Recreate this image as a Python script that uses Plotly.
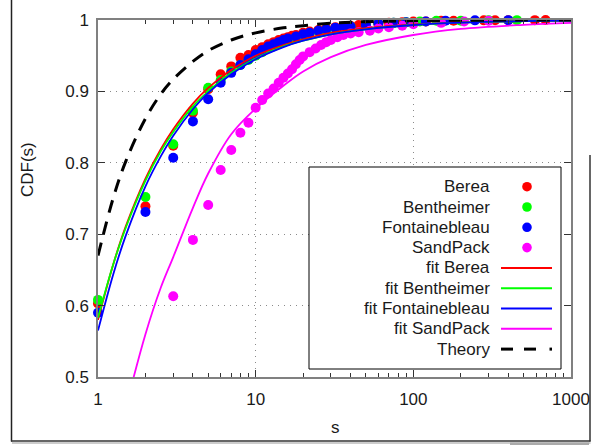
import plotly.graph_objects as go

# ---------------- data ----------------
berea_s = [1, 2, 3, 4, 5, 6, 7, 8, 9, 10, 11, 12, 13, 14, 15, 16, 17, 18,
           20, 22, 25, 28, 32, 36, 40, 45, 50, 60, 70, 85, 100, 120, 150, 180, 280, 330, 400, 590, 690]
berea_cdf = [0.603, 0.739, 0.824, 0.870, 0.903, 0.924, 0.935, 0.947, 0.951, 0.958, 0.962, 0.966, 0.969, 0.972, 0.974, 0.976, 0.978, 0.979,
             0.982, 0.984, 0.986, 0.988, 0.990, 0.991, 0.992, 0.993, 0.994, 0.995, 0.996, 0.997, 0.998, 0.998, 0.999, 0.999, 0.9995, 0.9996, 0.9997, 0.9998, 0.9999]

benth_s = [1, 2, 3, 4, 5, 6, 7, 8, 9, 10, 11, 12, 13, 14, 15, 16, 18, 20, 22, 25, 28, 32, 36, 40,
           50, 60, 75, 90, 110, 140, 200, 300, 454]
benth_cdf = [0.608, 0.752, 0.826, 0.873, 0.905, 0.916, 0.928, 0.937, 0.944, 0.950, 0.955, 0.960, 0.963, 0.966, 0.969, 0.971, 0.975, 0.978, 0.981, 0.984, 0.986, 0.988, 0.990, 0.991,
             0.993, 0.995, 0.996, 0.997, 0.998, 0.999, 0.999, 0.9995, 0.9998]

fonta_s = [1, 2, 3, 4, 5, 6, 7, 8, 9, 10, 11, 12, 13, 14, 15, 16, 18, 20, 22, 25, 28, 32, 36, 40,
           50, 60, 75, 90, 120, 160, 246, 400]
fonta_cdf = [0.590, 0.731, 0.807, 0.858, 0.889, 0.912, 0.926, 0.937, 0.945, 0.952, 0.958, 0.963, 0.966, 0.969, 0.972, 0.974, 0.977, 0.980, 0.982, 0.985, 0.987, 0.989, 0.990, 0.991,
             0.993, 0.995, 0.996, 0.997, 0.998, 0.999, 0.9995, 0.9998]

sand_s = [3, 4, 5, 6, 7, 8, 9, 10, 11, 12, 13, 14, 15, 16, 17, 18, 19, 20, 22, 24, 26, 28, 30,
          33, 36, 40, 45, 53, 60, 70, 85, 100, 150, 210, 300]
sand_cdf = [0.613, 0.692, 0.741, 0.790, 0.818, 0.842, 0.856, 0.877, 0.888, 0.897, 0.904, 0.912, 0.919, 0.925, 0.931, 0.938, 0.944, 0.949, 0.955, 0.960, 0.965, 0.969, 0.972,
            0.976, 0.979, 0.981, 0.983, 0.985, 0.988, 0.990, 0.992, 0.994, 0.996, 0.998, 0.999]

# fitted / theory curves, read at these s values
curve_s = [1, 1.25, 1.5, 2, 2.5, 3, 4, 5, 7, 10, 15, 20, 30, 50, 100, 200, 500, 1000]
fit_berea = [0.580, 0.658, 0.711, 0.778, 0.819, 0.847, 0.883, 0.905, 0.930, 0.950, 0.965, 0.973, 0.982, 0.9885, 0.9939, 0.9968, 0.9986, 0.9993]
fit_benth = [0.583, 0.658, 0.709, 0.775, 0.816, 0.843, 0.879, 0.900, 0.926, 0.946, 0.963, 0.971, 0.980, 0.987, 0.993, 0.9963, 0.9983, 0.9991]
fit_fonta = [0.565, 0.644, 0.698, 0.767, 0.809, 0.838, 0.875, 0.898, 0.924, 0.945, 0.962, 0.971, 0.980, 0.987, 0.993, 0.9963, 0.9984, 0.9991]
theory = [0.670, 0.751, 0.802, 0.862, 0.896, 0.917, 0.942, 0.957, 0.972, 0.982, 0.989, 0.992, 0.9955, 0.9976, 0.9991, 0.9996, 0.9999, 1.0]

sand_fit_s = [1.5, 2, 2.5, 3, 4, 5, 7, 10, 15, 20, 30, 50, 100, 200, 500, 1000]
fit_sand = [0.457, 0.560, 0.625, 0.668, 0.737, 0.785, 0.840, 0.876, 0.908, 0.928, 0.948, 0.965, 0.979, 0.9875, 0.9932, 0.996]

labels_pts = ["Berea", "Bentheimer", "Fontainebleau", "SandPack"]
labels_fit = ["fit Berea", "fit Bentheimer", "fit Fontainebleau", "fit SandPack", "Theory"]
colors = ["#ff0000", "#00ff00", "#0000ff", "#ff00ff"]

x_ticks = [1, 10, 100, 1000]
y_ticks = [0.5, 0.6, 0.7, 0.8, 0.9, 1.0]
y_ticktext = ["0.5", "0.6", "0.7", "0.8", "0.9", "1"]

# ---------------- figure ----------------
W, H = 601, 445
L, R, T, B = 98, 571, 20, 377  # plot area in pixels
FONT = "Liberation Sans, Arial, sans-serif"


def px(x):
    return (x - L) / (R - L)


def py(y):
    return (B - y) / (B - T)


fig = go.Figure()

pts = [(berea_s, berea_cdf), (benth_s, benth_cdf), (fonta_s, fonta_cdf), (sand_s, sand_cdf)]
for (xs, ys), c, name in zip(pts, colors, labels_pts):
    fig.add_trace(go.Scatter(x=xs, y=ys, mode="markers", name=name,
                             marker=dict(color=c, size=10, line=dict(width=0)),
                             cliponaxis=False, showlegend=False))

fits = [(curve_s, fit_berea), (curve_s, fit_benth), (curve_s, fit_fonta), (sand_fit_s, fit_sand)]
for (xs, ys), c, name in zip(fits, colors, labels_fit[:4]):
    fig.add_trace(go.Scatter(x=xs, y=ys, mode="lines", name=name,
                             line=dict(color=c, width=1.8, shape="spline", smoothing=1.0),
                             showlegend=False))

fig.add_trace(go.Scatter(x=curve_s, y=theory, mode="lines", name="Theory",
                         line=dict(color="black", width=3, dash="13px,9px", shape="spline", smoothing=1.0),
                         showlegend=False))

axis_common = dict(showline=True, linecolor="#808080", linewidth=1.5, mirror="ticks",
                   ticks="inside", tickcolor="#333333", ticklen=7, tickwidth=1,
                   showgrid=True, gridcolor="#8a8a8a", griddash="1px,5px", gridwidth=1,
                   zeroline=False, tickfont=dict(family=FONT, size=17, color="#1a1a1a"))

fig.update_xaxes(type="log", range=[0, 3], tickvals=x_ticks, ticktext=[str(v) for v in x_ticks],
                 ticklabelstandoff=6,
                 minor=dict(ticks="inside", ticklen=4, tickcolor="#333333", showgrid=False,
                            tickvals=[2, 3, 4, 5, 6, 7, 8, 9, 20, 30, 40, 50, 60, 70, 80, 90,
                                      200, 300, 400, 500, 600, 700, 800, 900]),
                 **axis_common)
fig.update_yaxes(range=[0.5, 1.0], tickvals=y_ticks, ticktext=y_ticktext, ticklabelstandoff=4,
                 **axis_common)

shapes = []
annots = []

# legend box
shapes.append(dict(type="rect", xref="paper", yref="paper", x0=px(309), x1=px(561), y0=py(369), y1=py(167),
                   line=dict(color="black", width=1), fillcolor="white", layer="above"))
row_y = [186.7 + 20.3 * i for i in range(9)]
all_labels = labels_pts + labels_fit
for i, lab in enumerate(all_labels):
    annots.append(dict(xref="paper", yref="paper", x=px(492), y=py(row_y[i]), text=lab, showarrow=False,
                       xanchor="right", yanchor="middle", font=dict(family=FONT, size=17, color="#1a1a1a")))
for i, c in enumerate(colors):
    r = 4.8
    shapes.append(dict(type="circle", xref="paper", yref="paper", x0=px(527 - r), x1=px(527 + r),
                       y0=py(row_y[i] + r), y1=py(row_y[i] - r), fillcolor=c, line=dict(width=0), layer="above"))
for i, c in enumerate(colors):
    yy = py(row_y[4 + i])
    shapes.append(dict(type="line", xref="paper", yref="paper", x0=px(501), x1=px(552), y0=yy, y1=yy,
                       line=dict(color=c, width=2), layer="above"))
yy = py(row_y[8])
for a, b in [(501, 513), (524, 536), (549.5, 552)]:
    shapes.append(dict(type="line", xref="paper", yref="paper", x0=px(a), x1=px(b), y0=yy, y1=yy,
                       line=dict(color="black", width=3), layer="above"))

# axis titles
annots.append(dict(xref="paper", yref="paper", x=px(28), y=py(170), text="CDF(s)", textangle=-90, showarrow=False,
                   xanchor="center", yanchor="middle", font=dict(family=FONT, size=17, color="#1a1a1a")))
annots.append(dict(xref="paper", yref="paper", x=px(335), y=py(427), text="s", showarrow=False,
                   xanchor="center", yanchor="middle", font=dict(family=FONT, size=17, color="#1a1a1a")))

# outer window frame
shapes.append(dict(type="line", xref="paper", yref="paper", x0=px(11.5), x1=px(11.5), y0=py(0), y1=py(441.5),
                   line=dict(color="#222222", width=1.5)))
shapes.append(dict(type="line", xref="paper", yref="paper", x0=px(11), x1=px(590.5), y0=py(441), y1=py(441),
                   line=dict(color="#333333", width=1.5)))
shapes.append(dict(type="line", xref="paper", yref="paper", x0=px(12), x1=px(590.5), y0=py(443), y1=py(443),
                   line=dict(color="#bbbbbb", width=1.5)))
shapes.append(dict(type="line", xref="paper", yref="paper", x0=px(590), x1=px(590), y0=py(155), y1=py(441.5),
                   line=dict(color="#333333", width=1.5)))
shapes.append(dict(type="rect", xref="paper", yref="paper", x0=px(510), x1=px(589), y0=py(445), y1=py(442.5),
                   fillcolor="#aaaaaa", line=dict(width=0)))

fig.update_layout(width=W, height=H, margin=dict(l=L, r=W - R, t=T, b=H - B),
                  paper_bgcolor="white", plot_bgcolor="white", showlegend=False,
                  shapes=shapes, annotations=annots)

fig.write_html("out.html")
